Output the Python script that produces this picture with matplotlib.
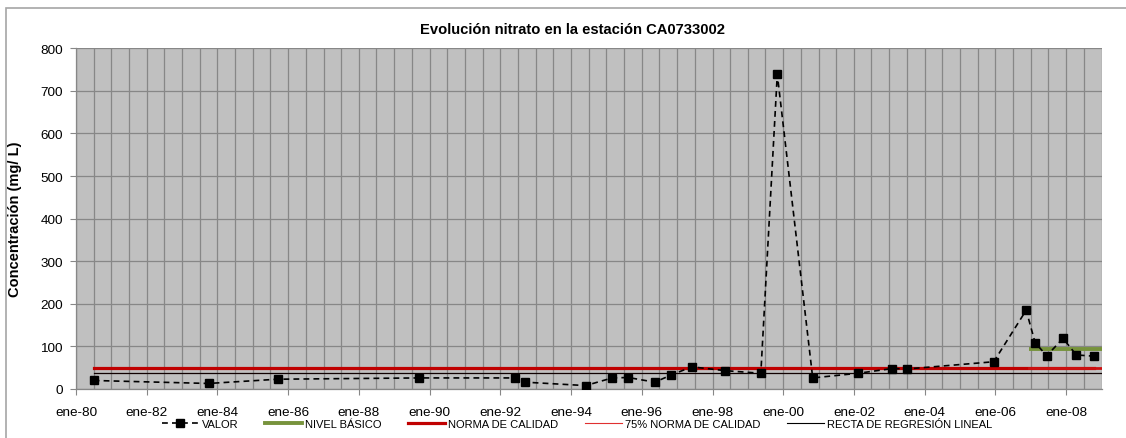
import matplotlib
matplotlib.use('Agg')
import matplotlib.pyplot as plt
import matplotlib.dates as mdates
from matplotlib.lines import Line2D
from matplotlib.patches import Rectangle
import pandas as pd

plt.rcParams['font.family'] = ['Liberation Sans', 'DejaVu Sans']
plt.rcParams['font.size'] = 9

# datos
fechas = ['1980-07-01', '1983-10-01', '1985-09-15', '1989-09-15', '1992-06-01',
          '1992-09-15', '1994-06-01', '1995-03-01', '1995-08-15', '1996-05-15',
          '1996-11-01', '1997-06-01', '1998-05-15', '1999-05-15', '1999-11-01',
          '2000-11-01', '2002-02-15', '2003-02-01', '2003-07-01', '2005-12-15',
          '2006-11-15', '2007-02-15', '2007-06-15', '2007-12-01', '2008-04-15',
          '2008-10-15']
valor = [20, 13, 23, 26, 26, 16, 8, 26, 27, 16, 33, 52, 43, 37, 739,
         26, 37, 48, 47, 64, 185, 109, 78, 119, 80, 77]
norma = 50
norma_75 = 37.5
nivel_basico = 93
nivel_inicio, nivel_fin = '2006-12-15', '2009-01-01'

fechas = pd.to_datetime(fechas)
x_min, x_max = pd.Timestamp('1980-01-01'), pd.Timestamp('2009-01-01')

fig = plt.figure(figsize=(11.26, 4.39), dpi=100)
ax = fig.add_axes([76/1126, 1-390/439, (1101.5-76)/1126, (390-49.3)/439])
ax.set_facecolor('#c0c0c0')

# lineas de referencia
ax.plot([fechas[0], fechas[-1]], [norma, norma], color='#c00000', lw=2.3, zorder=3)
ax.plot([pd.Timestamp(nivel_inicio), x_max], [norma, norma], color='#cc1010', lw=2.0, zorder=3)
ax.plot([fechas[0], x_max], [norma_75, norma_75], color='#100000', lw=0.9, zorder=3)
ax.plot([pd.Timestamp(nivel_inicio), pd.Timestamp(nivel_fin)], [nivel_basico, nivel_basico],
        color='#77933c', lw=2.8, zorder=3, solid_capstyle='butt')

# serie
ax.plot(fechas, valor, color='black', lw=1.2, ls=(0, (3.5, 2.5)), marker='s',
        markersize=6.3, zorder=4)

ax.set_xlim(x_min, x_max)
ax.set_ylim(0, 800)
ax.set_yticks(range(0, 801, 100))
ax.xaxis.set_major_locator(mdates.YearLocator(2))
ax.xaxis.set_minor_locator(mdates.MonthLocator(bymonth=[1, 7]))
ax.xaxis.set_major_formatter(plt.FuncFormatter(
    lambda v, p: 'ene-' + mdates.num2date(v).strftime('%y')))

ax.grid(True, which='both', axis='x', color='#878787', lw=0.9)
ax.grid(True, which='major', axis='y', color='#878787', lw=0.9)
ax.set_axisbelow(True)

for s in ['top', 'right']:
    ax.spines[s].set_visible(False)
for s in ['left', 'bottom']:
    ax.spines[s].set_color('#878787')
    ax.spines[s].set_linewidth(0.9)

ax.tick_params(axis='x', which='major', length=4, pad=8, color='#878787', labelsize=9.7)
ax.tick_params(axis='x', which='minor', length=0)
ax.tick_params(axis='y', length=4.5, pad=5, color='#878787', labelsize=9.7)

ax.set_ylabel('Concentración (mg/ L)', fontsize=10.5, fontweight='bold')
ax.yaxis.set_label_coords(-0.053, 0.5)

fig.text(572.5/1126, 1-30/439, 'Evolución nitrato en la estación CA0733002',
         ha='center', va='center', fontsize=10.6, fontweight='bold')

handles = [
    Line2D([], [], color='black', lw=1.2, ls=(0, (3.5, 2.5)), marker='s', markersize=6.3),
    Line2D([], [], color='#77933c', lw=2.8),
    Line2D([], [], color='#c00000', lw=2.3),
    Line2D([], [], color='#e03030', lw=0.8),
    Line2D([], [], color='black', lw=0.8),
]
labels = ['VALOR', 'NIVEL BÁSICO', 'NORMA DE CALIDAD', '75% NORMA DE CALIDAD',
          'RECTA DE REGRESIÓN LINEAL']
fig.legend(handles, labels, loc='center', bbox_to_anchor=(577/1126, 1-425/439),
           ncol=5, frameon=False, fontsize=8, handlelength=3.3, handletextpad=0.3,
           columnspacing=2.4, borderpad=0)

# marco exterior
fig.patches.append(Rectangle((6/1126, -0.1), 2, 1.1-9/439, transform=fig.transFigure,
                             fill=False, edgecolor='#a6a6a6', lw=1.2))

fig.savefig('out.png', dpi=100)
